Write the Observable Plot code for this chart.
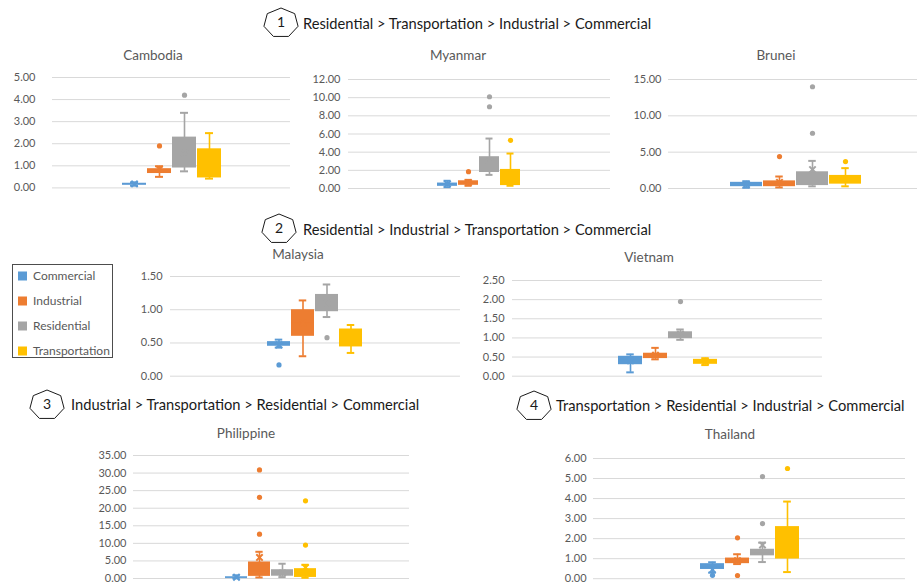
<!DOCTYPE html>
<html><head><meta charset="utf-8">
<script src="https://cdn.jsdelivr.net/npm/d3@7"></script>
<script src="https://cdn.jsdelivr.net/npm/@observablehq/plot@0.6"></script>
<style>
body{margin:0;width:917px;height:585px;overflow:hidden;background:#fff;font-family:Lato,"Noto Sans",sans-serif;position:relative}
.title{position:absolute;transform:translate(-50%,-50%);font-size:13.5px;color:#595959;white-space:nowrap}
.head{position:absolute;transform:translateY(-50%);font-size:14.7px;color:#1a1a1a;white-space:nowrap}
.legend{position:absolute;left:12px;top:264px;width:99px;height:92px;border:1px solid #4d4d4d;background:#fff}
.li{position:absolute;left:5px;font-size:12px;color:#595959;white-space:nowrap;transform:translateY(-50%)}
.sw{display:inline-block;width:9px;height:9px;margin-right:6px;vertical-align:-1px}
</style></head><body>
<script>
const series = ["Commercial","Industrial","Residential","Transportation"];
const colors = ["#5B9BD5","#ED7D31","#A5A5A5","#FFC000"];
const countries = ["Cambodia","Myanmar","Brunei","Malaysia","Vietnam","Philippine","Thailand"];

// per series: [whisker min, Q1, median, Q3, whisker max]
const cambodiaBox = [[0.10,0.13,0.17,0.21,0.25],[0.50,0.65,0.75,0.87,0.98],[0.75,0.90,1.50,2.30,3.40],[0.42,0.45,1.00,1.77,2.48]];
const cambodiaMean = [0.18,0.85,1.60,1.10];
const cambodiaOutliers = [[],[1.9],[4.2],[]];
const cambodiaTicks = [0,1,2,3,4,5];

const myanmarBox = [[0.15,0.25,0.40,0.60,0.85],[0.30,0.35,0.60,0.85,0.95],[1.50,1.76,2.50,3.50,5.50],[0.30,0.32,0.90,2.10,3.85]];
const myanmarMean = [0.50,0.65,3.00,1.40];
const myanmarOutliers = [[],[1.85],[10.1,9.0],[5.3]];
const myanmarTicks = [0,2,4,6,8,10,12];

const bruneiBox = [[0.10,0.25,0.50,0.85,1.00],[0.15,0.25,0.60,1.05,1.65],[0.30,0.40,1.00,2.30,3.80],[0.30,0.60,1.20,1.80,2.80]];
const bruneiMean = [0.55,0.85,2.60,1.30];
const bruneiOutliers = [[],[4.4],[7.6,14.0],[3.7]];
const bruneiTicks = [0,5,10,15];

const malaysiaBox = [[0.43,0.45,0.49,0.52,0.55],[0.30,0.60,0.80,1.00,1.14],[0.89,0.97,1.10,1.23,1.38],[0.35,0.44,0.55,0.71,0.77]];
const malaysiaMean = [0.47,0.80,1.10,0.58];
const malaysiaOutliers = [[0.17],[],[0.58],[]];
const malaysiaTicks = [0,0.5,1,1.5];

const vietnamBox = [[0.10,0.30,0.42,0.52,0.57],[0.44,0.46,0.55,0.60,0.74],[0.95,0.98,1.08,1.16,1.22],[0.29,0.31,0.38,0.44,0.47]];
const vietnamMean = [0.40,0.55,1.10,0.38];
const vietnamOutliers = [[],[],[1.95],[]];
const vietnamTicks = [0,0.5,1,1.5,2,2.5];

const philippineBox = [[0.05,0.10,0.25,0.50,0.90],[0.30,0.60,2.00,4.70,7.60],[0.40,0.65,1.20,2.50,4.20],[0.20,0.30,1.20,2.80,3.90]];
const philippineMean = [0.35,6.00,1.60,3.10];
const philippineOutliers = [[],[12.6,23.1,30.9],[],[9.5,22.1]];
const philippineTicks = [0,5,10,15,20,25,30,35];

const thailandBox = [[0.30,0.46,0.60,0.75,0.82],[0.73,0.75,0.85,1.03,1.22],[0.83,1.14,1.30,1.47,1.80],[0.33,0.98,1.70,2.60,3.85]];
const thailandMean = [0.45,0.90,1.68,1.90];
const thailandOutliers = [[0.17],[2.04,0.16],[2.75,5.1],[5.5]];
const thailandTicks = [0,1,2,3,4,5,6];

// layout: plot area edges, title centre, label gap, box width
const layouts = {
  Cambodia:   {l:52,  r:290, t:77.3,  b:187.7, tx:153, ty:55,  gap:17, bw:24},
  Myanmar:    {l:348, r:610, t:78.7,  b:187.7, tx:458, ty:55,  gap:8,  bw:21},
  Brunei:     {l:668, r:922, t:78.7,  b:187.7, tx:776, ty:55,  gap:7,  bw:32.5},
  Malaysia:   {l:170, r:460, t:276,   b:375.7, tx:298, ty:254, gap:8,  bw:23.5},
  Vietnam:    {l:512, r:822, t:280,   b:375.7, tx:649, ty:257, gap:8,  bw:24.5},
  Philippine: {l:133, r:409, t:455,   b:578,   tx:246, ty:433, gap:7,  bw:22.7},
  Thailand:   {l:593, r:905, t:458.3, b:578.5, tx:730, ty:434, gap:7,  bw:24.3}
};
const dataFor = {
  Cambodia:[cambodiaBox,cambodiaMean,cambodiaOutliers,cambodiaTicks],
  Myanmar:[myanmarBox,myanmarMean,myanmarOutliers,myanmarTicks],
  Brunei:[bruneiBox,bruneiMean,bruneiOutliers,bruneiTicks],
  Malaysia:[malaysiaBox,malaysiaMean,malaysiaOutliers,malaysiaTicks],
  Vietnam:[vietnamBox,vietnamMean,vietnamOutliers,vietnamTicks],
  Philippine:[philippineBox,philippineMean,philippineOutliers,philippineTicks],
  Thailand:[thailandBox,thailandMean,thailandOutliers,thailandTicks]
};

const font = 'Lato,"Noto Sans",sans-serif';
const ML = 50, MT = 6, MB = 4;
const PI = 0.04;

for (const name of countries) {
  const L = layouts[name];
  const [box, mean, outl, ticks] = dataFor[name];
  const rows = series.map((s,i) => ({series:s, min:box[i][0], q1:box[i][1], med:box[i][2], q3:box[i][3], max:box[i][4], mean:mean[i]}));
  const outRows = series.flatMap((s,i) => outl[i].map(v => ({series:s, value:v})));
  const W = L.r - L.l, H = L.b - L.t;
  const step = L.bw / (1 - PI);
  const po = (W / step - (series.length - PI)) / 2;
  const cap = Math.max(0, (L.bw - 8) / 2);
  const chart = Plot.plot({
    width: ML + W, height: MT + H + MB,
    marginLeft: ML, marginRight: 0, marginTop: MT, marginBottom: MB,
    x: {domain: series, paddingInner: PI, paddingOuter: po, axis: null},
    y: {domain: [0, ticks[ticks.length-1]], axis: null},
    color: {domain: series, range: colors},
    style: {fontFamily: font, fontSize: "11px", color: "#595959", background: "transparent", overflow: "visible"},
    marks: [
      Plot.gridY(ticks, {stroke: "#d9d9d9", strokeOpacity: 1}),
      Plot.axisY(ticks, {tickSize: 0, tickPadding: L.gap, tickFormat: d3.format(".2f"), fill: "#595959", fontSize: 11}),
      Plot.ruleX(rows, {x: "series", y1: "min", y2: "max", stroke: "series", strokeWidth: 1.6}),
      Plot.tickY(rows, {x: "series", y: "min", stroke: "series", strokeWidth: 2, insetLeft: cap, insetRight: cap}),
      Plot.tickY(rows, {x: "series", y: "max", stroke: "series", strokeWidth: 2, insetLeft: cap, insetRight: cap}),
      Plot.barY(rows, {x: "series", y1: "q1", y2: "q3", fill: "series"}),
      Plot.tickY(rows, {x: "series", y: "med", stroke: "series", strokeWidth: 1}),
      Plot.dot(rows, {x: "series", y: "mean", symbol: "times", r: 3, stroke: "series", strokeWidth: 2}),
      Plot.dot(outRows, {x: "series", y: "value", r: 2.6, fill: "series", stroke: "none"})
    ]
  });
  chart.style.position = "absolute";
  chart.style.left = (L.l - ML) + "px";
  chart.style.top = (L.t - MT) + "px";
  document.body.appendChild(chart);
  const t = document.createElement("div");
  t.className = "title"; t.textContent = name;
  t.style.left = L.tx + "px"; t.style.top = L.ty + "px";
  document.body.appendChild(t);
}

// group headings
const groupNumbers = ["1","2","3","4"];
const groupTexts = [
  "Residential > Transportation > Industrial > Commercial",
  "Residential > Industrial > Transportation > Commercial",
  "Industrial > Transportation > Residential > Commercial",
  "Transportation > Residential > Industrial > Commercial"
];
const groupPos = [{cx:281,cy:22.5,tx:303},{cx:279,cy:228.5,tx:303},{cx:47,cy:404,tx:71},{cx:534,cy:405,tx:556}];
groupNumbers.forEach((n,i) => {
  const p = groupPos[i];
  const w = 34, h = 29;
  const pts = d3.range(7).map(k => {
    const a = -Math.PI/2 + k*2*Math.PI/7;
    return [w/2 + Math.cos(a)*w/2*1.03, 1 + (Math.sin(a)+1)/1.9*h*0.98];
  });
  const ns = "http://www.w3.org/2000/svg";
  const svg = document.createElementNS(ns, "svg");
  svg.setAttribute("width", w+4); svg.setAttribute("height", h+4);
  svg.style.position = "absolute";
  svg.style.left = (p.cx - w/2 - 2) + "px";
  svg.style.top = (p.cy - h/2 - 2) + "px";
  svg.style.overflow = "visible";
  const poly = document.createElementNS(ns, "polygon");
  poly.setAttribute("points", pts.map(q => (q[0]+2)+","+(q[1]+1)).join(" "));
  poly.setAttribute("fill", "#fff"); poly.setAttribute("stroke", "#1a1a1a"); poly.setAttribute("stroke-width", "1");
  svg.appendChild(poly);
  const tx = document.createElementNS(ns, "text");
  tx.setAttribute("x", w/2+2); tx.setAttribute("y", h/2+3);
  tx.setAttribute("text-anchor", "middle"); tx.setAttribute("dominant-baseline", "middle");
  tx.setAttribute("font-family", font); tx.setAttribute("font-size", "14"); tx.setAttribute("fill", "#1a1a1a");
  tx.textContent = n;
  svg.appendChild(tx);
  document.body.appendChild(svg);
  const d = document.createElement("div");
  d.className = "head"; d.textContent = groupTexts[i];
  d.style.left = p.tx + "px"; d.style.top = p.cy + "px";
  document.body.appendChild(d);
});

// legend
const leg = document.createElement("div");
leg.className = "legend";
const legY = [10, 35, 60, 85];
series.forEach((s,i) => {
  const it = document.createElement("div");
  it.className = "li"; it.style.top = legY[i] + "px";
  it.innerHTML = `<span class="sw" style="background:${colors[i]}"></span>${s}`;
  leg.appendChild(it);
});
document.body.appendChild(leg);
</script>
</body></html>
